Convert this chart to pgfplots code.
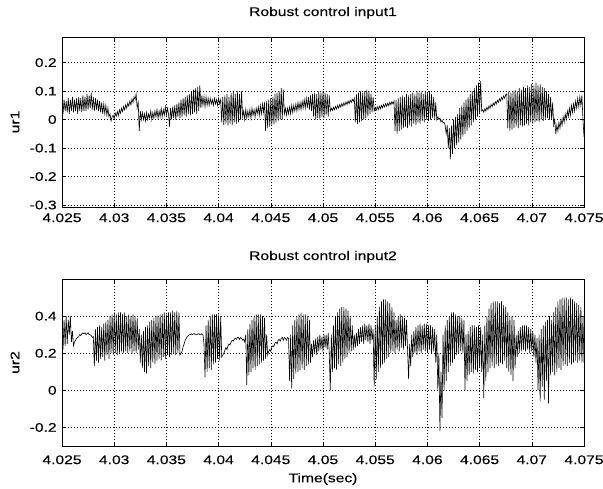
\documentclass[border=0pt]{standalone}
\usepackage{pgfplots}
\pgfplotsset{compat=1.18}
\usepackage{fontspec}
\setmainfont{Liberation Sans}[FakeStretch=1.25,FakeBold=0.3]
\begin{document}
\fontsize{12.5}{15}\selectfont
\begin{tikzpicture}
\path[use as bounding box] (0pt,0pt) rectangle (603pt,488pt);
\pgfplotsset{
  mstyle/.style={
    scale only axis, width=522pt, xmin=4.025, xmax=4.075,
    xtick={4.025,4.03,4.035,4.04,4.045,4.05,4.055,4.06,4.065,4.07,4.075},
    xticklabels={4.025,4.03,4.035,4.04,4.045,4.05,4.055,4.06,4.065,4.07,4.075},
    grid=major,
    major grid style={black, line width=0.55pt, dash pattern=on 1pt off 2pt},
    axis line style={black, line width=0.7pt},
    tick align=inside, major tick length=4pt,
    tick style={black, line width=0.5pt},
    /pgf/number format/assume math mode=true,
    tick label style={font=\fontsize{12.5}{15}\selectfont},
    label style={font=\fontsize{12.5}{15}\selectfont},
    title style={font=\fontsize{12.5}{15}\selectfont, at={(axis description cs:0.5,1)}, anchor=base},
    ylabel style={at={(axis description cs:0,0.5)}, anchor=center, yshift=47pt},
    yticklabel style={xshift=-1pt},
  }
}
\begin{axis}[mstyle, at={(62pt,281pt)}, anchor=south west, height=170pt,
  ymin=-0.307, ymax=0.29,
  ytick={-0.3,-0.2,-0.1,0,0.1,0.2}, yticklabels={-0.3,-0.2,-0.1,0,0.1,0.2},
  title={Robust control input1}, title style={yshift=15pt},
  xticklabel style={yshift=-2pt},
  ylabel={ur1}]
\addplot[black, line width=0.6pt] coordinates {
(4.0250,0.05)(4.0251,0.02)(4.0252,0.07)(4.0253,0.03)(4.0254,0.065)(4.0255,0.025)(4.0256,0.075)(4.0257,0.02)(4.0258,0.07)(4.0259,0.03)
(4.0260,0.08)(4.0261,0.025)(4.0262,0.07)(4.0263,0.03)(4.0264,0.075)(4.0265,0.02)(4.0266,0.08)(4.0267,0.03)(4.0268,0.075)(4.0269,0.025)
(4.0270,0.085)(4.0271,0.03)(4.0272,0.08)(4.0273,0.03)(4.0274,0.09)(4.0275,0.035)(4.0276,0.085)(4.0277,0.04)(4.0278,0.095)
(4.0279,0.035)(4.0280,0.08)(4.0281,0.03)(4.0282,0.075)(4.0283,0.035)(4.0284,0.07)(4.0285,0.03)(4.0286,0.065)(4.0287,0.025)(4.0288,0.06)
(4.0289,0.02)(4.0290,0.055)(4.0291,0.02)(4.0292,0.05)(4.0293,0.015)(4.0294,0.04)(4.0295,0.01)(4.0296,0.02)(4.0297,-0.005)
(4.0298,0.01)(4.0299,0.015)(4.0300,0.002)(4.0301,0.022)(4.0302,0.012)(4.0303,0.028)(4.0304,0.014)(4.0305,0.034)(4.0306,0.022)(4.0307,0.04)(4.0308,0.028)(4.0309,0.046)
(4.0310,0.034)(4.0311,0.052)(4.0312,0.04)(4.0313,0.058)(4.0314,0.047)(4.0315,0.065)(4.0316,0.052)(4.0317,0.072)(4.0318,0.06)(4.0319,0.08)(4.0320,0.07)(4.0321,0.09)
(4.0322,0.04)(4.0323,0.06)(4.0324,-0.04)(4.0325,0.03)(4.0326,0.0)
(4.0327,0.025)(4.0328,0.0)(4.0329,0.02)(4.0330,-0.005)(4.0331,0.025)(4.0332,0.0)(4.0333,0.02)(4.0334,0.005)(4.0335,0.03)(4.0336,0.0)
(4.0337,0.025)(4.0338,0.005)(4.0339,0.03)(4.0340,0.01)(4.0341,0.035)(4.0342,0.005)(4.0343,0.03)(4.0344,0.01)(4.0345,0.04)(4.0346,0.01)
(4.0347,0.035)(4.0348,0.015)(4.0349,0.045)(4.0350,0.015)(4.0351,0.04)(4.0352,0.02)(4.0353,-0.025)
(4.0354,0.04)(4.0355,0.0)(4.0356,0.045)(4.0357,0.005)(4.0358,0.05)(4.0359,0.0)(4.0360,0.055)(4.0361,0.01)(4.0362,0.06)(4.0363,0.005)
(4.0364,0.07)(4.0365,0.01)(4.0366,0.075)(4.0367,0.015)(4.0368,0.08)(4.0369,0.01)(4.0370,0.085)(4.0371,0.02)(4.0372,0.09)(4.0373,0.015)
(4.0374,0.1)(4.0375,0.02)(4.0376,0.105)(4.0377,0.025)(4.0378,0.11)(4.0379,0.02)(4.0380,0.115)(4.0381,0.03)(4.0382,0.12)
(4.0383,0.04)(4.0384,0.085)(4.0385,0.05)(4.0386,0.08)(4.0387,0.045)(4.0388,0.08)(4.0389,0.05)(4.0390,0.075)(4.0391,0.05)(4.0392,0.075)
(4.0393,0.055)(4.0394,0.07)(4.0395,0.05)(4.0396,0.075)(4.0397,0.055)(4.0398,0.07)(4.0399,0.05)(4.0400,0.075)(4.0401,0.055)(4.0402,0.07)
(4.0403,-0.01)(4.0404,0.08)(4.0405,-0.02)(4.0406,0.085)(4.0407,-0.015)(4.0408,0.09)(4.0409,-0.02)(4.0410,0.08)(4.0411,-0.015)(4.0412,0.095)
(4.0413,-0.02)(4.0414,0.1)(4.0415,-0.01)(4.0416,0.09)(4.0417,-0.015)(4.0418,0.1)(4.0419,-0.01)(4.0420,0.09)(4.0421,0.0)(4.0422,0.1)(4.0423,0.01)
(4.0424,0.03)(4.0425,0.0)(4.0426,0.035)(4.0427,0.005)(4.0428,0.03)(4.0429,0.01)(4.0430,0.035)(4.0431,0.005)(4.0432,0.04)(4.0433,0.015)
(4.0434,0.035)(4.0435,0.01)(4.0436,0.04)(4.0437,0.02)(4.0438,0.045)(4.0439,0.015)(4.0440,0.05)(4.0441,0.02)(4.0442,0.055)(4.0443,0.025)
(4.0444,0.06)(4.0445,-0.04)(4.0446,0.065)(4.0447,-0.03)(4.0448,0.07)(4.0449,-0.025)(4.0450,0.075)(4.0451,-0.02)(4.0452,0.08)(4.0453,-0.015)
(4.0454,0.09)(4.0455,-0.01)(4.0456,0.095)(4.0457,-0.005)(4.0458,0.1)(4.0459,0.0)(4.0460,0.11)(4.0461,0.0)(4.0462,0.105)(4.0463,0.02)
(4.0464,0.04)(4.0465,0.015)(4.0466,0.04)(4.0467,0.02)(4.0468,0.045)(4.0469,0.02)(4.0470,0.05)(4.0471,0.025)(4.0472,0.05)(4.0473,0.03)
(4.0474,0.055)(4.0475,0.03)(4.0476,0.06)(4.0477,0.035)(4.0478,0.06)(4.0479,0.035)(4.0480,0.065)(4.0481,0.04)(4.0482,0.07)(4.0483,0.04)
(4.0484,0.075)(4.0485,0.04)(4.0486,0.08)(4.0487,0.035)(4.0488,0.085)(4.0489,0.03)
(4.0490,0.09)(4.0491,0.01)(4.0492,0.095)(4.0493,0.0)(4.0494,0.09)(4.0495,0.005)(4.0496,0.1)(4.0497,0.0)(4.0498,0.095)(4.0499,0.01)
(4.0500,0.1)(4.0501,0.005)(4.0502,0.095)(4.0503,0.015)(4.0504,0.09)(4.0505,0.01)(4.0506,0.085)(4.0507,0.03)
(4.0508,0.04)(4.0509,0.032)(4.0510,0.043)(4.0511,0.034)(4.0512,0.046)(4.0513,0.037)(4.0514,0.05)(4.0515,0.04)(4.0516,0.053)(4.0517,0.044)(4.0518,0.056)(4.0519,0.047)
(4.0520,0.059)(4.0521,0.05)(4.0522,0.062)(4.0523,0.053)(4.0524,0.065)(4.0525,0.056)(4.0526,0.068)(4.0527,0.06)(4.0528,0.071)(4.0529,0.064)(4.0530,0.075)
(4.0531,-0.01)(4.0532,0.09)(4.0533,-0.015)(4.0534,0.095)(4.0535,-0.01)(4.0536,0.1)(4.0537,-0.005)(4.0538,0.095)(4.0539,0.0)(4.0540,0.1)
(4.0541,0.005)(4.0542,0.105)(4.0543,0.01)(4.0544,0.1)(4.0545,0.02)(4.0546,0.09)(4.0547,0.025)(4.0548,0.08)(4.0549,0.03)
(4.0550,0.042)(4.0551,0.033)(4.0552,0.045)(4.0553,0.035)(4.0554,0.047)(4.0555,0.038)(4.0556,0.05)(4.0557,0.041)(4.0558,0.053)(4.0559,0.044)
(4.0560,0.056)(4.0561,0.046)(4.0562,0.058)(4.0563,0.049)(4.0564,0.061)(4.0565,0.052)(4.0566,0.063)(4.0567,0.055)(4.0568,0.065)
(4.0569,-0.04)(4.0570,0.07)(4.0571,-0.05)(4.0572,0.075)(4.0573,-0.04)(4.0574,0.08)(4.0575,-0.035)(4.0576,0.085)(4.0577,-0.03)(4.0578,0.08)
(4.0579,-0.025)(4.0580,0.09)(4.0581,-0.03)(4.0582,0.085)(4.0583,-0.02)(4.0584,0.09)(4.0585,-0.025)(4.0586,0.095)(4.0587,-0.015)(4.0588,0.09)
(4.0589,-0.02)(4.0590,0.1)(4.0591,-0.01)(4.0592,0.095)(4.0593,-0.015)(4.0594,0.1)(4.0595,-0.005)(4.0596,0.09)(4.0597,-0.01)(4.0598,0.1)
(4.0599,0.0)(4.0600,0.095)(4.0601,-0.005)(4.0602,0.1)(4.0603,0.0)(4.0604,0.09)(4.0605,0.005)(4.0606,0.08)(4.0607,0.0)(4.0608,0.06)(4.0609,0.0)
(4.0610,0.01)(4.0611,0.0)(4.0612,0.005)(4.0613,-0.008)(4.0614,-0.002)(4.0615,-0.012)(4.0616,-0.01)(4.0617,-0.02)
(4.0618,-0.05)(4.0619,-0.02)(4.0620,-0.1)(4.0621,-0.03)(4.0622,-0.14)(4.0623,-0.02)(4.0624,-0.12)(4.0625,0.0)(4.0626,-0.1)(4.0627,0.01)
(4.0628,-0.09)(4.0629,0.02)(4.0630,-0.08)(4.0631,0.04)(4.0632,-0.07)(4.0633,0.05)(4.0634,-0.06)(4.0635,0.06)(4.0636,-0.05)(4.0637,0.07)
(4.0638,-0.04)(4.0639,0.08)(4.0640,-0.03)(4.0641,0.09)(4.0642,-0.02)(4.0643,0.1)(4.0644,-0.01)(4.0645,0.11)(4.0646,0.0)(4.0647,0.12)
(4.0648,0.01)(4.0649,0.13)(4.0650,0.02)(4.0651,0.135)(4.0652,0.03)
(4.0653,0.035)(4.0654,0.026)(4.0655,0.038)(4.0656,0.03)(4.0657,0.043)(4.0658,0.035)(4.0659,0.048)(4.0660,0.04)(4.0661,0.053)(4.0662,0.045)
(4.0663,0.058)(4.0664,0.05)(4.0665,0.063)(4.0666,0.055)(4.0667,0.068)(4.0668,0.06)(4.0669,0.073)(4.0670,0.065)(4.0671,0.078)(4.0672,0.07)
(4.0673,0.083)(4.0674,0.075)(4.0675,0.088)(4.0676,0.09)
(4.0677,-0.03)(4.0678,0.1)(4.0679,-0.04)(4.0680,0.095)(4.0681,-0.035)(4.0682,0.1)(4.0683,-0.03)(4.0684,0.105)(4.0685,-0.025)(4.0686,0.1)
(4.0687,-0.03)(4.0688,0.11)(4.0689,-0.02)(4.0690,0.105)(4.0691,-0.025)(4.0692,0.115)(4.0693,-0.02)(4.0694,0.11)(4.0695,-0.015)(4.0696,0.12)
(4.0697,-0.02)(4.0698,0.115)(4.0699,-0.01)(4.0700,0.125)(4.0701,-0.015)(4.0702,0.12)(4.0703,-0.01)(4.0704,0.13)(4.0705,-0.005)(4.0706,0.12)
(4.0707,-0.01)(4.0708,0.125)(4.0709,0.0)(4.0710,0.115)(4.0711,-0.005)(4.0712,0.11)(4.0713,0.0)(4.0714,0.1)(4.0715,0.005)(4.0716,0.09)
(4.0717,0.0)(4.0718,0.08)(4.0719,0.0)(4.0720,0.06)(4.0721,-0.02)(4.0722,0.0)(4.0723,-0.05)
(4.0724,-0.02)(4.0725,-0.04)(4.0726,-0.01)(4.0727,-0.03)(4.0728,0.0)(4.0729,-0.02)(4.0730,0.01)(4.0731,-0.01)(4.0732,0.02)(4.0733,0.0)
(4.0734,0.03)(4.0735,0.01)(4.0736,0.04)(4.0737,0.015)(4.0738,0.05)(4.0739,0.025)(4.0740,0.055)(4.0741,0.03)(4.0742,0.065)(4.0743,0.04)
(4.0744,0.075)(4.0745,0.045)(4.0746,0.08)(4.0747,0.05)(4.0748,0.085)(4.0749,0.0)(4.0750,-0.06)
};
\end{axis}
\begin{axis}[mstyle, at={(62pt,42pt)}, anchor=south west, height=167pt,
  ymin=-0.3, ymax=0.6,
  ytick={-0.2,0,0.2,0.4}, yticklabels={-0.2,0,0.2,0.4},
  title={Robust control input2}, title style={yshift=13pt},
  xticklabel style={yshift=-5pt},
  xlabel={Time(sec)}, xlabel style={at={(axis description cs:0.5,0)}, anchor=center, yshift=-33pt},
  ylabel={ur2}]
\addplot[black, line width=0.6pt] coordinates {
(4.0250,0.3)(4.0251,0.22)(4.0252,0.38)(4.0253,0.24)(4.0254,0.4)(4.0255,0.25)(4.0256,0.38)(4.0257,0.3)(4.0258,0.4)(4.0259,0.26)(4.0260,0.32)(4.0261,0.24)
(4.0262,0.26)(4.0263,0.27)(4.0264,0.28)(4.0265,0.285)(4.0266,0.29)(4.0267,0.3)(4.0268,0.295)(4.0269,0.305)(4.0270,0.31)(4.0271,0.305)(4.0272,0.31)(4.0273,0.3)
(4.0274,0.305)(4.0275,0.31)(4.0276,0.3)(4.0277,0.3)(4.0278,0.295)(4.0279,0.285)(4.0280,0.29)
(4.0281,0.13)(4.0282,0.33)(4.0283,0.16)(4.0284,0.34)(4.0285,0.15)(4.0286,0.35)(4.0287,0.17)(4.0288,0.34)(4.0289,0.18)(4.0290,0.36)
(4.0291,0.16)(4.0292,0.37)(4.0293,0.19)(4.0294,0.38)(4.0295,0.17)(4.0296,0.4)(4.0297,0.2)(4.0298,0.41)(4.0299,0.19)(4.0300,0.42)
(4.0301,0.2)(4.0302,0.41)(4.0303,0.19)(4.0304,0.42)(4.0305,0.2)(4.0306,0.42)(4.0307,0.21)(4.0308,0.41)(4.0309,0.2)(4.0310,0.42)
(4.0311,0.21)(4.0312,0.4)(4.0313,0.2)(4.0314,0.41)(4.0315,0.21)(4.0316,0.4)(4.0317,0.2)(4.0318,0.41)(4.0319,0.21)(4.0320,0.4)
(4.0321,0.2)(4.0322,0.39)(4.0323,0.22)
(4.0324,0.33)(4.0325,0.15)(4.0326,0.3)(4.0327,0.12)(4.0328,0.32)(4.0329,0.1)(4.0330,0.34)(4.0331,0.09)(4.0332,0.35)(4.0333,0.13)
(4.0334,0.37)(4.0335,0.12)(4.0336,0.38)(4.0337,0.15)(4.0338,0.39)(4.0339,0.14)(4.0340,0.4)(4.0341,0.16)(4.0342,0.4)(4.0343,0.17)
(4.0344,0.41)(4.0345,0.16)(4.0346,0.41)(4.0347,0.18)(4.0348,0.42)(4.0349,0.17)(4.0350,0.41)(4.0351,0.19)(4.0352,0.42)(4.0353,0.18)
(4.0354,0.42)(4.0355,0.19)(4.0356,0.43)(4.0357,0.2)(4.0358,0.42)(4.0359,0.19)(4.0360,0.43)(4.0361,0.2)(4.0362,0.42)(4.0363,0.19)
(4.0364,0.2)(4.0365,0.21)(4.0366,0.235)(4.0367,0.25)(4.0368,0.27)(4.0369,0.28)(4.0370,0.29)(4.0371,0.295)(4.0372,0.3)(4.0373,0.3)(4.0374,0.305)(4.0375,0.3)
(4.0376,0.305)(4.0377,0.305)(4.0378,0.3)(4.0379,0.3)(4.0380,0.305)(4.0381,0.305)(4.0382,0.3)(4.0383,0.3)(4.0384,0.305)(4.0385,0.3)
(4.0386,0.25)(4.0387,0.07)(4.0388,0.35)(4.0389,0.1)(4.0390,0.38)(4.0391,0.12)(4.0392,0.4)(4.0393,0.11)(4.0394,0.41)(4.0395,0.14)
(4.0396,0.41)(4.0397,0.15)(4.0398,0.41)(4.0399,0.17)(4.0400,0.41)(4.0401,0.16)(4.0402,0.4)(4.0403,0.18)
(4.0404,0.19)(4.0405,0.2)(4.0406,0.215)(4.0407,0.23)(4.0408,0.22)(4.0409,0.24)(4.0410,0.25)(4.0411,0.245)(4.0412,0.26)(4.0413,0.27)(4.0414,0.265)
(4.0415,0.275)(4.0416,0.28)(4.0417,0.275)(4.0418,0.285)(4.0419,0.285)(4.0420,0.275)(4.0421,0.285)(4.0422,0.28)(4.0423,0.27)(4.0424,0.275)(4.0425,0.26)
(4.0426,0.3)(4.0427,0.03)(4.0428,0.33)(4.0429,0.08)(4.0430,0.36)(4.0431,0.1)(4.0432,0.38)(4.0433,0.12)(4.0434,0.4)(4.0435,0.11)
(4.0436,0.41)(4.0437,0.13)(4.0438,0.41)(4.0439,0.14)(4.0440,0.41)(4.0441,0.15)(4.0442,0.4)(4.0443,0.16)(4.0444,0.39)(4.0445,0.17)
(4.0446,0.3)(4.0447,0.19)
(4.0448,0.21)(4.0449,0.22)(4.0450,0.21)(4.0451,0.235)(4.0452,0.24)(4.0453,0.235)(4.0454,0.255)(4.0455,0.26)(4.0456,0.25)(4.0457,0.27)(4.0458,0.275)
(4.0459,0.265)(4.0460,0.28)(4.0461,0.285)(4.0462,0.27)(4.0463,0.285)(4.0464,0.28)(4.0465,0.27)(4.0466,0.285)(4.0467,0.28)
(4.0468,0.05)(4.0469,0.3)(4.0470,0.01)(4.0471,0.35)(4.0472,0.06)(4.0473,0.38)(4.0474,0.09)(4.0475,0.4)(4.0476,0.1)(4.0477,0.41)
(4.0478,0.11)(4.0479,0.42)(4.0480,0.12)(4.0481,0.41)(4.0482,0.11)(4.0483,0.41)(4.0484,0.13)(4.0485,0.4)(4.0486,0.14)(4.0487,0.38)
(4.0488,0.15)(4.0489,0.25)(4.0490,0.18)(4.0491,0.27)(4.0492,0.2)(4.0493,0.28)(4.0494,0.19)(4.0495,0.29)(4.0496,0.21)(4.0497,0.3)
(4.0498,0.22)(4.0499,0.29)(4.0500,0.21)(4.0501,0.3)(4.0502,0.23)(4.0503,0.3)(4.0504,0.22)(4.0505,0.31)(4.0506,0.2)(4.0507,0.0)
(4.0508,0.3)(4.0509,0.1)(4.0510,0.35)(4.0511,0.12)(4.0512,0.4)(4.0513,0.11)(4.0514,0.42)(4.0515,0.14)(4.0516,0.44)(4.0517,0.13)
(4.0518,0.45)(4.0519,0.15)(4.0520,0.45)(4.0521,0.17)(4.0522,0.44)(4.0523,0.18)(4.0524,0.43)(4.0525,0.2)(4.0526,0.4)(4.0527,0.21)(4.0528,0.35)
(4.0529,0.22)(4.0530,0.3)(4.0531,0.23)(4.0532,0.31)(4.0533,0.24)(4.0534,0.33)(4.0535,0.25)(4.0536,0.34)(4.0537,0.26)(4.0538,0.35)
(4.0539,0.25)(4.0540,0.36)(4.0541,0.27)(4.0542,0.35)(4.0543,0.26)(4.0544,0.36)(4.0545,0.25)(4.0546,0.35)(4.0547,0.27)(4.0548,0.33)
(4.0549,0.02)(4.0550,0.35)(4.0551,0.06)(4.0552,0.4)(4.0553,0.1)(4.0554,0.45)(4.0555,0.12)(4.0556,0.48)(4.0557,0.14)(4.0558,0.49)
(4.0559,0.15)(4.0560,0.49)(4.0561,0.17)(4.0562,0.48)(4.0563,0.18)(4.0564,0.47)(4.0565,0.2)(4.0566,0.45)(4.0567,0.21)(4.0568,0.42)
(4.0569,0.2)(4.0570,0.38)(4.0571,0.22)(4.0572,0.4)(4.0573,0.21)(4.0574,0.41)(4.0575,0.23)(4.0576,0.4)(4.0577,0.22)(4.0578,0.39)
(4.0579,0.24)(4.0580,0.38)(4.0581,0.22)(4.0582,0.06)
(4.0583,0.25)(4.0584,0.13)(4.0585,0.3)(4.0586,0.18)(4.0587,0.32)(4.0588,0.2)(4.0589,0.34)(4.0590,0.19)(4.0591,0.35)(4.0592,0.21)
(4.0593,0.36)(4.0594,0.2)(4.0595,0.35)(4.0596,0.22)(4.0597,0.36)(4.0598,0.21)(4.0599,0.36)(4.0600,0.2)(4.0601,0.35)(4.0602,0.22)
(4.0603,0.35)(4.0604,0.2)(4.0605,0.34)(4.0606,0.21)(4.0607,0.33)(4.0608,0.15)(4.0609,0.3)
(4.0610,0.0)(4.0611,0.2)(4.0612,-0.22)(4.0613,0.1)(4.0614,-0.15)
(4.0615,0.3)(4.0616,0.0)(4.0617,0.35)(4.0618,0.05)(4.0619,0.38)(4.0620,0.1)(4.0621,0.4)(4.0622,0.13)(4.0623,0.42)(4.0624,0.15)
(4.0625,0.42)(4.0626,0.17)(4.0627,0.41)(4.0628,0.19)(4.0629,0.4)(4.0630,0.2)(4.0631,0.4)(4.0632,0.21)(4.0633,0.39)(4.0634,0.2)
(4.0635,0.38)(4.0636,0.0)
(4.0637,0.3)(4.0638,0.05)(4.0639,0.32)(4.0640,0.08)(4.0641,0.34)(4.0642,0.1)(4.0643,0.35)(4.0644,0.09)(4.0645,0.35)(4.0646,0.11)
(4.0647,0.34)(4.0648,0.1)(4.0649,0.35)(4.0650,0.12)(4.0651,0.34)(4.0652,0.1)(4.0653,0.3)(4.0654,-0.04)
(4.0655,0.35)(4.0656,0.05)(4.0657,0.4)(4.0658,0.1)(4.0659,0.44)(4.0660,0.12)(4.0661,0.47)(4.0662,0.13)(4.0663,0.48)(4.0664,0.12)
(4.0665,0.48)(4.0666,0.14)(4.0667,0.48)(4.0668,0.13)(4.0669,0.47)(4.0670,0.15)(4.0671,0.48)(4.0672,0.14)(4.0673,0.46)(4.0674,0.16)
(4.0675,0.45)(4.0676,0.12)(4.0677,0.42)(4.0678,0.1)(4.0679,0.4)(4.0680,0.08)(4.0681,0.4)(4.0682,0.05)(4.0683,0.38)(4.0684,0.12)
(4.0685,0.3)(4.0686,0.18)(4.0687,0.32)(4.0688,0.2)(4.0689,0.34)(4.0690,0.21)(4.0691,0.35)(4.0692,0.22)(4.0693,0.35)(4.0694,0.21)
(4.0695,0.35)(4.0696,0.22)(4.0697,0.34)(4.0698,0.2)(4.0699,0.33)(4.0700,0.21)(4.0701,0.32)(4.0702,0.18)(4.0703,0.3)(4.0704,0.15)(4.0705,0.28)
(4.0706,0.0)(4.0707,0.3)(4.0708,-0.06)(4.0709,0.33)(4.0710,0.02)(4.0711,0.35)(4.0712,-0.05)(4.0713,0.37)(4.0714,0.05)(4.0715,0.38)
(4.0716,-0.07)(4.0717,0.4)(4.0718,0.08)(4.0719,0.38)(4.0720,0.1)
(4.0721,0.42)(4.0722,0.08)(4.0723,0.45)(4.0724,0.1)(4.0725,0.48)(4.0726,0.12)(4.0727,0.49)(4.0728,0.11)(4.0729,0.5)(4.0730,0.13)
(4.0731,0.5)(4.0732,0.14)(4.0733,0.5)(4.0734,0.13)(4.0735,0.49)(4.0736,0.15)(4.0737,0.5)(4.0738,0.14)(4.0739,0.49)(4.0740,0.15)
(4.0741,0.48)(4.0742,0.16)(4.0743,0.47)(4.0744,0.15)(4.0745,0.46)(4.0746,0.16)(4.0747,0.45)(4.0748,0.15)(4.0749,0.4)(4.0750,0.15)
};
\end{axis}
\end{tikzpicture}
\end{document}
